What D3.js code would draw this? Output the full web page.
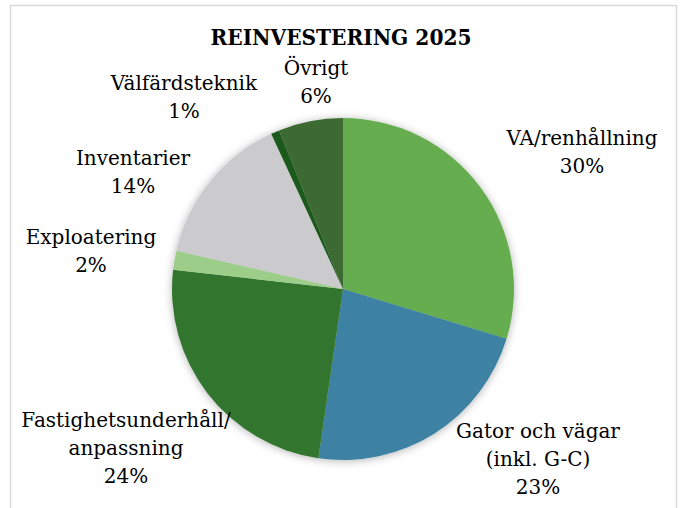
<!DOCTYPE html>
<html>
<head>
<meta charset="utf-8">
<script src="https://cdn.jsdelivr.net/npm/d3@7"></script>
<style>
  body { margin: 0; background: #fff; }
  svg text { font-family: "DejaVu Serif", "Liberation Serif", serif; fill: #000; }
</style>
</head>
<body>
<svg id="chart" width="686" height="508"></svg>
<script>
// data
const categories = ["VA/renhållning", "Gator och vägar", "Fastighetsunderhåll/anpassning",
                    "Exploatering", "Inventarier", "Välfärdsteknik", "Övrigt"];
const shares = [29.7, 22.6, 24.5, 1.8, 14.5, 0.8, 6.1];
const pctLabels = ["30%", "23%", "24%", "2%", "14%", "1%", "6%"];
const labelLines = [
  ["VA/renhållning"],
  ["Gator och vägar", "(inkl. G-C)"],
  ["Fastighetsunderhåll/", "anpassning"],
  ["Exploatering"],
  ["Inventarier"],
  ["Välfärdsteknik"],
  ["Övrigt"]
];
const colors = ["#66ad50", "#3d82a3", "#33742e", "#9dce89", "#cbcbce", "#1d5a1f", "#3e6a30"];

// label layout (centre x, first baseline) - mimics excel "best fit"
const labelLayout = [
  [582, 145], [538, 438], [126, 427], [91, 244], [133, 165], [184, 90], [316, 75]
];

function chart() {
  const svg = d3.select("#chart");
  const cx = 343, cy = 289, radius = 171;
  const lineH = 28;

  // frame
  svg.append("rect")
    .attr("x", 10.5).attr("y", 5.5)
    .attr("width", 666).attr("height", 530)
    .attr("fill", "none")
    .attr("stroke", "#d9d9d9")
    .attr("stroke-width", 1.5);

  // soft shadow like excel
  const defs = svg.append("defs");
  const f = defs.append("filter").attr("id", "shadow")
    .attr("x", "-20%").attr("y", "-20%").attr("width", "140%").attr("height", "140%");
  f.append("feDropShadow")
    .attr("dx", 0).attr("dy", 1)
    .attr("stdDeviation", 4)
    .attr("flood-color", "#000")
    .attr("flood-opacity", 0.3);

  svg.append("text")
    .attr("x", 341).attr("y", 45)
    .attr("text-anchor", "middle")
    .attr("font-size", "22.5px")
    .attr("font-weight", "bold")
    .attr("textLength", 261)
    .attr("lengthAdjust", "spacingAndGlyphs")
    .text("REINVESTERING 2025");

  const pie = d3.pie().sort(null).value(d => d);
  const arc = d3.arc().innerRadius(0).outerRadius(radius);
  const arcs = pie(shares);

  const g = svg.append("g")
    .attr("transform", "translate(" + cx + "," + cy + ")")
    .attr("filter", "url(#shadow)");

  g.selectAll("path")
    .data(arcs)
    .join("path")
    .attr("d", arc)
    .attr("fill", (d, i) => colors[i]);

  // labels
  const lbl = svg.selectAll(".lbl")
    .data(arcs)
    .join("text")
    .attr("class", "lbl")
    .attr("text-anchor", "middle")
    .attr("font-size", "20px");

  lbl.each(function (d, i) {
    const t = d3.select(this);
    const lines = labelLines[i].concat([pctLabels[i]]);
    lines.forEach((s, k) => {
      t.append("tspan")
        .attr("x", labelLayout[i][0])
        .attr("y", labelLayout[i][1] + k * lineH)
        .text(s);
    });
  });
}

window.onload = chart;
</script>
</body>
</html>
